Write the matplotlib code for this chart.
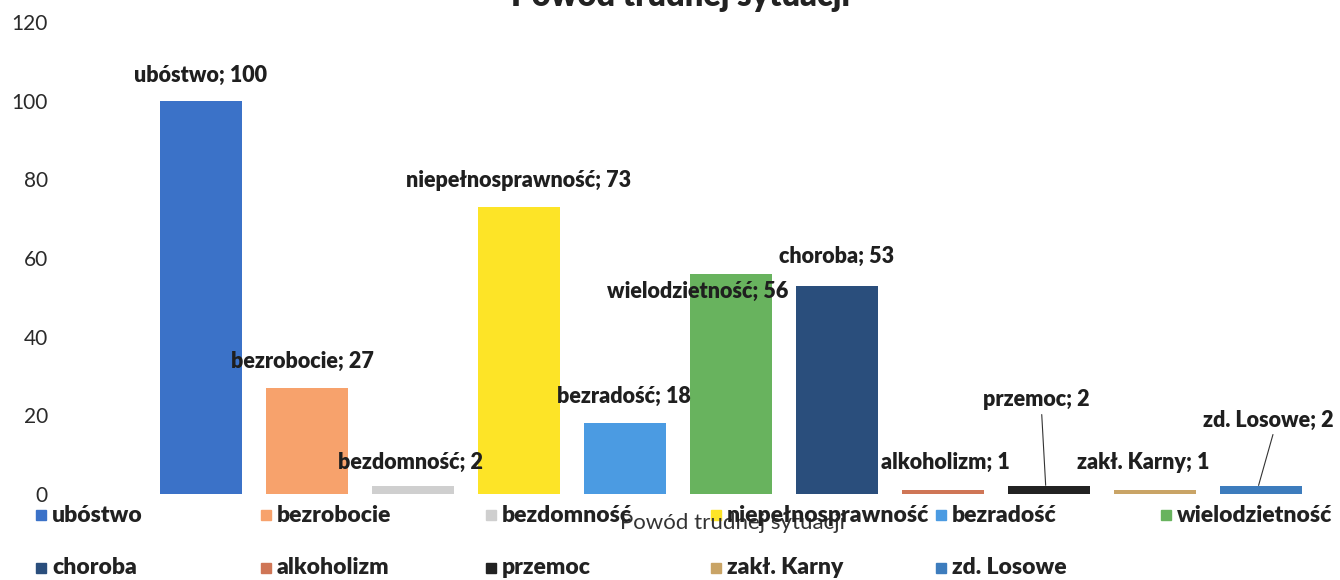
import matplotlib
matplotlib.use("Agg")
import matplotlib.pyplot as plt
from matplotlib.patches import Rectangle

plt.rcParams['font.family'] = ['Lato', 'DejaVu Sans']

# data
categories = ["ubóstwo", "bezrobocie", "bezdomność", "niepełnosprawność", "bezradość",
              "wielodzietność", "choroba", "alkoholizm", "przemoc", "zakł. Karny", "zd. Losowe"]
values = [100, 27, 2, 73, 18, 56, 53, 1, 2, 1, 2]
y_ticks = [0, 20, 40, 60, 80, 100, 120]

colors = ["#3b72c8", "#f7a26c", "#cfcfcf", "#fde427", "#4b9be2", "#68b35e",
          "#2a4e7c", "#cf7656", "#222222", "#c9a466", "#3d7cbd"]

# label placement (offset from bar top, in data units)
lab_dx = [0, -0.04, -0.02, 0, -0.01, -0.31, 0, 0.02, -0.12, -0.11, 0.07]
lab_dy = [6.5, 6.8, 6.1, 6.6, 6.7, -4.6, 7.3, 7.1, 21.9, 7.1, 16.8]
leader = [False, False, False, False, False, False, False, False, True, False, True]

fig = plt.figure(figsize=(13.4, 5.8), dpi=100)
ax = fig.add_axes([148 / 1340, 1 - 494 / 580, (1314 - 148) / 1340, (494 - 22) / 580])

x = list(range(len(categories)))
ax.bar(x, values, width=0.77, color=colors)

for i, (name, v) in enumerate(zip(categories, values)):
    tx, ty = i + lab_dx[i], v + lab_dy[i]
    ax.text(tx, ty, f"{name}; {v}", ha='center', va='center', fontsize=15.5,
            fontweight='heavy', color='#1f1f1f')
    if leader[i]:
        ax.annotate("", xy=(i - 0.03, v - 0.5), xytext=(tx + 0.05, ty - 3),
                    arrowprops=dict(arrowstyle='-', color='#333333', lw=0.8))

ax.set_xlim(-0.5, len(categories) - 0.5)
ax.set_ylim(0, 120)
ax.set_yticks(y_ticks)
ax.set_xticks([])
ax.tick_params(axis='y', length=0, pad=72, labelsize=15, labelcolor='#2a2a2a')
for s in ax.spines.values():
    s.set_visible(False)

# title (cut off at the top in the original)
fig.text(681 / 1340, 1 - 6 / 580, "Powód trudnej sytuacji", ha='center', va='baseline',
         fontsize=23.5, fontweight='heavy', color='#222222')

# axis title
fig.text(733 / 1340, 1 - 523 / 580, "Powód trudnej sytuacji", ha='center', va='center',
         fontsize=16, color='#333333')

# legend, laid out in a fixed grid like the original
for k, (name, c) in enumerate(zip(categories, colors)):
    row, col = divmod(k, 6)
    lx = 36 + col * 225
    ly = 515 + row * 53
    fig.add_artist(Rectangle((lx / 1340, 1 - (ly + 5) / 580), 10 / 1340, 10 / 580,
                             transform=fig.transFigure, color=c))
    fig.text((lx + 16) / 1340, 1 - ly / 580, name, ha='left', va='center',
             fontsize=16.5, fontweight='heavy', color='#222222')

fig.savefig("out.png", dpi=100)
